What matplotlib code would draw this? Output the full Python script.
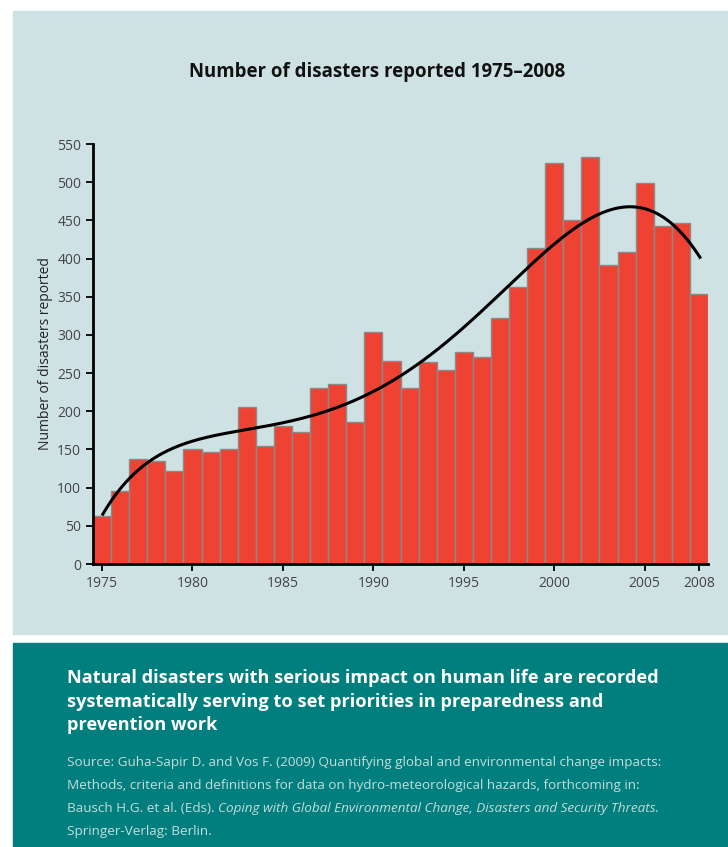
import numpy as np
import matplotlib
matplotlib.use("Agg")
import matplotlib.pyplot as plt
from matplotlib.patches import Rectangle

years = list(range(1975, 2009))
disasters = [63, 96, 138, 135, 122, 150, 147, 151, 205, 155,
             181, 173, 230, 236, 186, 304, 266, 231, 265, 254,
             277, 271, 322, 363, 414, 525, 450, 533, 391, 408,
             499, 442, 447, 354]
# trend line
trend_years = [1975.0, 1976.2, 1977.6, 1979.0, 1980.4, 1982.6, 1985.4, 1988.2,
               1990.4, 1992.6, 1995.9, 1998.5, 2000.5, 2002.4, 2004.0, 2006.1, 2008.1]
trend_values = [63, 106, 132, 152, 165, 175, 186, 206,
                232, 265, 328, 387, 429, 458, 467, 453, 400]
xticks = [1975, 1980, 1985, 1990, 1995, 2000, 2005, 2008]
yticks = list(range(0, 551, 50))

title = "Number of disasters reported 1975\u20132008"
ylabel = "Number of disasters reported"
heading = ["Natural disasters with serious impact on human life are recorded",
           "systematically serving to set priorities in preparedness and",
           "prevention work"]

plt.rcParams["font.family"] = ["Open Sans", "DejaVu Sans"]

W, H = 728, 847
fig = plt.figure(figsize=(W / 100, H / 100), dpi=100)
fig.patch.set_facecolor("white")


def fx(px):
    return px / W


def fy(py):
    return 1 - py / H


# background panels
fig.patches.append(Rectangle((fx(13), fy(634)), fx(715), 623 / H,
                             transform=fig.transFigure, color="#cfe2e3", zorder=-5))
fig.patches.append(Rectangle((fx(13), 0), fx(715), 204 / H,
                             transform=fig.transFigure, color="#007f7e", zorder=-5))

ax = fig.add_axes([fx(93), fy(564), fx(708 - 93), (564 - 144) / H])
ax.set_zorder(2)
ax.set_facecolor("none")

ax.bar(years, disasters, width=1.0, color="#ee4232", edgecolor="#8a8a8a",
       linewidth=1.0, zorder=2)

# smooth the read-off trend points with a polynomial
tx = np.array(trend_years)
t0, ts = 1991.5, 16.6
coef = np.polyfit((tx - t0) / ts, trend_values, 7)
xs = np.linspace(tx[0], tx[-1], 300)
ax.plot(xs, np.polyval(coef, (xs - t0) / ts), color="black", lw=2.2, zorder=3,
        solid_capstyle="butt")

ax.set_xlim(1974.5, 2008.5)
ax.set_ylim(0, 550)
ax.set_xticks(xticks)
ax.set_yticks(yticks)
ax.tick_params(axis="both", labelsize=10, labelcolor="#444444", color="black",
               width=1.3, length=5, direction="out")
for s in ["top", "right"]:
    ax.spines[s].set_visible(False)
for s in ["left", "bottom"]:
    ax.spines[s].set_linewidth(2)
ax.set_ylabel(ylabel, fontsize=10, color="#222222", labelpad=3)

fig.text(fx(377), fy(72), title, ha="center", va="center",
         fontsize=13.4, fontweight="bold", color="#111111")

for i, line in enumerate(heading):
    fig.text(fx(67), fy(678 + 23.5 * i), line, ha="left", va="center",
             fontsize=13.05, fontweight="bold", color="white")

src_color = "#c6dcda"
fs = 9.7
fig.text(fx(67), fy(762), "Source: Guha-Sapir D. and Vos F. (2009) Quantifying global and "
         "environmental change impacts:", fontsize=fs, color=src_color, va="center")
fig.text(fx(67), fy(785), "Methods, criteria and definitions for data on hydro-meteorological "
         "hazards, forthcoming in:", fontsize=fs, color=src_color, va="center")
t1 = fig.text(fx(67), fy(808), "Bausch H.G. et al. (Eds). ", fontsize=fs,
              color=src_color, va="center")
fig.canvas.draw()
bb = t1.get_window_extent()
fig.text(bb.x1 / W, fy(808), "Coping with Global Environmental Change, Disasters and "
         "Security Threats.", fontsize=fs, color=src_color, va="center", style="italic")
fig.text(fx(67), fy(831), "Springer-Verlag: Berlin.", fontsize=fs, color=src_color,
         va="center")

fig.savefig("out.png", dpi=100, facecolor="white")
